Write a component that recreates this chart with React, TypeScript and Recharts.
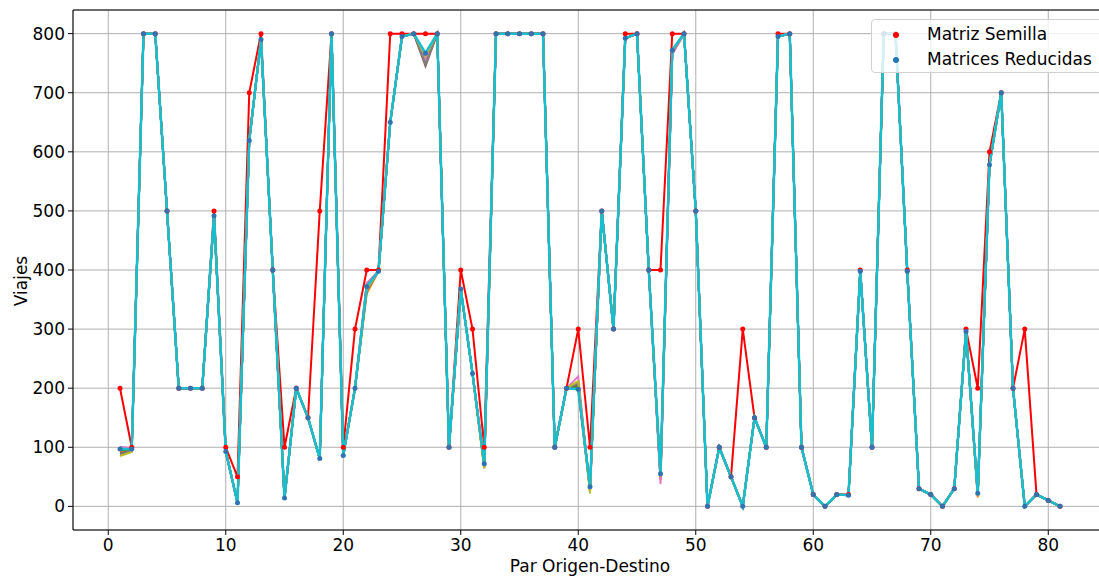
import React from 'react'
import { ComposedChart, Line, XAxis, YAxis, CartesianGrid, ReferenceLine } from 'recharts'

const FONT = '"DejaVu Sans", sans-serif'
const TAB10 = ['#1f77b4', '#ff7f0e', '#2ca02c', '#d62728', '#9467bd', '#8c564b', '#e377c2', '#7f7f7f', '#bcbd22', '#17becf']

const pairIds = Array.from({ length: 81 }, (_, i) => i + 1)

const seedTrips = [
  200, 100, 800, 800, 500, 200, 200, 200, 500, 100,
  50, 700, 800, 400, 100, 200, 150, 500, 800, 100,
  300, 400, 400, 800, 800, 800, 800, 800, 100, 400,
  300, 100, 800, 800, 800, 800, 800, 100, 200, 300,
  100, 500, 300, 800, 800, 400, 400, 800, 800, 500,
  0, 100, 50, 300, 150, 100, 800, 800, 100, 20,
  0, 20, 20, 400, 100, 800, 800, 400, 30, 20,
  0, 30, 300, 200, 600, 700, 200, 300, 20, 10, 0,
]

// last reduced matrix (drawn on top, cyan)
const reducedTrips = [
  97, 97, 800, 800, 500, 200, 200, 200, 492, 93,
  6, 619, 790, 400, 14, 200, 150, 81, 800, 86,
  200, 372, 398, 650, 795, 800, 767, 800, 100, 368,
  225, 72, 800, 800, 800, 800, 800, 100, 200, 198,
  33, 500, 300, 792, 800, 400, 55, 772, 800, 500,
  0, 100, 50, 0, 150, 100, 795, 800, 100, 20,
  0, 20, 19, 398, 100, 800, 800, 398, 30, 20,
  0, 30, 296, 22, 578, 700, 200, 0, 20, 10, 0,
]

// earlier reductions (C0..C8) only split away from the last one at these pairs
const reducedSpread: Record<number, number[]> = {
  1: [100, 92, 95, 97, 99, 90, 100, 88, 85],
  2: [98, 95, 96, 97, 98, 94, 99, 94, 92],
  22: [376, 360, 366, 370, 374, 371, 378, 365, 368],
  27: [760, 755, 757, 752, 750, 745, 756, 748, 762],
  32: [70, 68, 71, 66, 69, 70, 72, 66, 64],
  40: [205, 200, 203, 198, 210, 206, 220, 208, 212],
  41: [30, 28, 32, 26, 30, 29, 28, 31, 22],
  47: [50, 48, 52, 45, 50, 47, 38, 52, 50],
  48: [768, 770, 772, 766, 770, 768, 765, 770, 771],
  74: [20, 15, 22, 20, 21, 20, 22, 21, 18],
}

const xTicks = [0, 10, 20, 30, 40, 50, 60, 70, 80]
const yTicks = [0, 100, 200, 300, 400, 500, 600, 700, 800]

const rows = pairIds.map((id, i) => {
  const row: Record<string, number> = { id, seed: seedTrips[i] }
  TAB10.forEach((_, k) => {
    const spread = reducedSpread[id]
    row[`r${k}`] = k < 9 && spread ? spread[k] : reducedTrips[i]
  })
  return row
})

const tickStyle = { fill: '#000', fontSize: 17, fontFamily: FONT }

function LegendBox() {
  const item = (color: string, label: string) => (
    <div style={{ display: 'flex', alignItems: 'center', height: 25 }}>
      <span style={{ width: 6, height: 6, borderRadius: 3, background: color, marginLeft: 21, marginRight: 28 }} />
      <span>{label}</span>
    </div>
  )
  return (
    <div style={{
      position: 'absolute', left: 871, top: 19, width: 240, height: 54, boxSizing: 'border-box',
      border: '1px solid #d0d0d0', borderRadius: 4, background: 'rgba(255,255,255,0.8)',
      fontFamily: FONT, fontSize: 17, color: '#000', paddingTop: 2, lineHeight: '25px',
    }}>
      {item('#ff0000', 'Matriz Semilla')}
      {item('#1f77b4', 'Matrices Reducidas')}
    </div>
  )
}

export default function App() {
  return (
    <div style={{ position: 'fixed', left: 0, top: 0, width: 1099, height: 576, overflow: 'hidden', background: '#fff' }}>
      <ComposedChart width={1110} height={576} data={rows} margin={{ top: 10, right: 3, left: 10, bottom: 0 }}>
        <CartesianGrid stroke="#b0b0b0" strokeWidth={1} />
        <XAxis dataKey="id" type="number" domain={[-3, 85]} ticks={xTicks} allowDataOverflow
          height={46} tick={tickStyle} tickSize={5} tickMargin={4}
          axisLine={{ stroke: '#000' }} tickLine={{ stroke: '#000' }}
          label={{ value: 'Par Origen-Destino', position: 'insideBottom', offset: 4, fill: '#000', fontSize: 17, fontFamily: FONT }} />
        <YAxis type="number" domain={[-40, 840]} ticks={yTicks} allowDataOverflow
          width={63} tick={tickStyle} tickSize={5} tickMargin={3}
          axisLine={{ stroke: '#000' }} tickLine={{ stroke: '#000' }} />
        <ReferenceLine y={840} stroke="#000" />
        <Line type="linear" dataKey="seed" stroke="#ff0000" strokeWidth={2}
          dot={{ r: 2.5, fill: '#ff0000', stroke: 'none' }} isAnimationActive={false} />
        <Line type="linear" dataKey="r9" stroke="none" legendType="none"
          dot={{ r: 2.5, fill: '#2f74b0', stroke: 'none' }} isAnimationActive={false} />
        {TAB10.map((color, k) => (
          <Line key={k} type="linear" dataKey={`r${k}`} stroke={color} strokeWidth={k === 9 ? 2.5 : 2}
            dot={false} isAnimationActive={false} />
        ))}
      </ComposedChart>
      <div style={{
        position: 'absolute', left: 21, top: 281, transform: 'translate(-50%, -50%) rotate(-90deg)',
        fontFamily: FONT, fontSize: 17, color: '#000', whiteSpace: 'nowrap',
      }}>Viajes</div>
      <LegendBox />
    </div>
  )
}
